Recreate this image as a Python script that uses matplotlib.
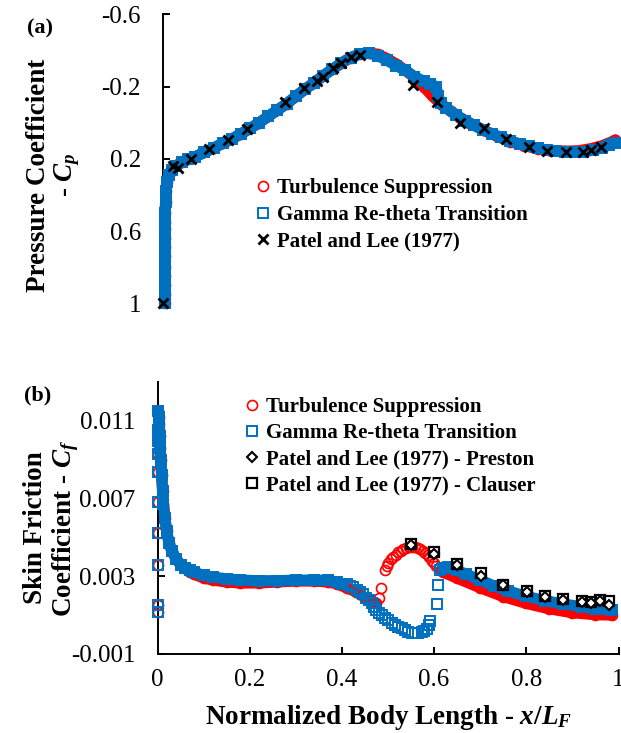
import numpy as np
import matplotlib.pyplot as plt
from matplotlib.lines import Line2D

plt.rcParams['font.family'] = 'Liberation Serif'
plt.rcParams['mathtext.fontset'] = 'custom'
plt.rcParams['mathtext.rm'] = 'Liberation Serif:bold'
plt.rcParams['mathtext.it'] = 'Liberation Serif:italic:bold'
plt.rcParams['mathtext.bf'] = 'Liberation Serif:bold'

# ---- (a) pressure coefficient ----
cp_gamma_x = [0.003, 0.003, 0.003, 0.003, 0.003, 0.003, 0.003, 0.003, 0.004, 0.004, 0.004, 0.005,
              0.006, 0.008, 0.012, 0.018, 0.027, 0.04, 0.055, 0.07, 0.09, 0.11, 0.13, 0.15, 0.17,
              0.19, 0.21, 0.23, 0.25, 0.27, 0.29, 0.31, 0.33, 0.35, 0.37, 0.39, 0.41, 0.43, 0.45,
              0.47, 0.49, 0.51, 0.53, 0.55, 0.57, 0.585, 0.597, 0.602, 0.607, 0.62, 0.64, 0.66,
              0.68, 0.70, 0.72, 0.74, 0.76, 0.78, 0.80, 0.82, 0.84, 0.86, 0.88, 0.90, 0.92, 0.94,
              0.96, 0.975, 0.99]
cp_gamma = [1.0, 0.95, 0.90, 0.85, 0.80, 0.74, 0.69, 0.64, 0.59, 0.55, 0.50, 0.44, 0.38, 0.33,
            0.29, 0.26, 0.24, 0.22, 0.203, 0.188, 0.165, 0.14, 0.115, 0.09, 0.062, 0.032, 0.0,
            -0.035, -0.07, -0.105, -0.145, -0.185, -0.22, -0.26, -0.295, -0.33, -0.36, -0.38,
            -0.385, -0.37, -0.345, -0.315, -0.29, -0.255, -0.23, -0.215, -0.2, -0.15, -0.11,
            -0.08, -0.045, -0.012, 0.015, 0.04, 0.062, 0.082, 0.1, 0.117, 0.13, 0.142, 0.151,
            0.157, 0.161, 0.163, 0.161, 0.153, 0.14, 0.125, 0.112]

cp_ts_x = [0.003, 0.003, 0.003, 0.003, 0.003, 0.003, 0.003, 0.003, 0.004, 0.004, 0.004, 0.005,
           0.006, 0.008, 0.012, 0.018, 0.027, 0.04, 0.055, 0.07, 0.09, 0.11, 0.13, 0.15, 0.17,
           0.19, 0.21, 0.23, 0.25, 0.27, 0.29, 0.31, 0.33, 0.35, 0.37, 0.39, 0.41, 0.43, 0.45,
           0.47, 0.49, 0.51, 0.53, 0.55, 0.57, 0.59, 0.61, 0.63, 0.65, 0.67, 0.70, 0.73, 0.76,
           0.79, 0.82, 0.85, 0.88, 0.91, 0.94, 0.96, 0.98, 0.99]
cp_ts = [1.0, 0.95, 0.90, 0.85, 0.80, 0.74, 0.69, 0.64, 0.59, 0.55, 0.50, 0.44, 0.38, 0.33,
         0.29, 0.26, 0.24, 0.22, 0.203, 0.188, 0.165, 0.14, 0.115, 0.09, 0.062, 0.032, 0.0,
         -0.035, -0.07, -0.105, -0.145, -0.185, -0.22, -0.26, -0.295, -0.33, -0.36, -0.38,
         -0.388, -0.378, -0.355, -0.325, -0.29, -0.25, -0.2, -0.145, -0.1, -0.062, -0.028, 0.0,
         0.04, 0.075, 0.105, 0.127, 0.145, 0.155, 0.158, 0.155, 0.142, 0.128, 0.108, 0.095]

cp_exp_x = [0.0, 0.021, 0.033, 0.060, 0.101, 0.142, 0.184, 0.266, 0.308, 0.336, 0.350, 0.371,
            0.390, 0.412, 0.430, 0.547, 0.600, 0.649, 0.702, 0.750, 0.801, 0.841, 0.881, 0.919,
            0.937, 0.959]
cp_exp = [1.0, 0.240, 0.253, 0.202, 0.148, 0.096, 0.037, -0.112, -0.190, -0.230, -0.254, -0.301,
          -0.329, -0.365, -0.374, -0.208, -0.116, 0.0, 0.028, 0.093, 0.134, 0.156, 0.161, 0.161,
          0.152, 0.137]

# ---- (b) skin friction coefficient ----
# points sitting right at the leading edge (x = 0), both models
cf_le_x = [0.0, 0.0, 0.0, 0.0, 0.0, 0.0, 0.0, 0.0, 0.0]
cf_le = [0.00117, 0.00151, 0.0036, 0.00522, 0.00681, 0.00838, 0.00929, 0.00997, 0.0105]

# Gamma Re-theta: upstream part, separation bubble, downstream part
cf_g1_x = [0.002, 0.003, 0.004, 0.005, 0.006, 0.007, 0.009, 0.011, 0.013, 0.016, 0.020, 0.025,
           0.031, 0.040, 0.050, 0.060, 0.070, 0.080, 0.100, 0.120, 0.150, 0.180, 0.220, 0.260,
           0.300, 0.340, 0.370, 0.390, 0.400]
cf_g1 = [0.0115, 0.0112, 0.0108, 0.0102, 0.0096, 0.0090, 0.0082, 0.0074, 0.0067, 0.0060, 0.0053,
         0.0047, 0.0043, 0.0039, 0.0036, 0.0034, 0.0033, 0.0032, 0.00305, 0.00295, 0.00287,
         0.0028, 0.00277, 0.00277, 0.0028, 0.0028, 0.00278, 0.0027, 0.00262]
cf_gs_x = [0.410, 0.418, 0.425, 0.432, 0.439, 0.446, 0.452, 0.458, 0.465, 0.470, 0.475, 0.480,
           0.486, 0.493, 0.501, 0.508, 0.515, 0.522, 0.530, 0.537, 0.544, 0.551, 0.559, 0.566,
           0.573, 0.579, 0.585, 0.589, 0.592, 0.606, 0.609, 0.613]
cf_gs = [0.0026, 0.0025, 0.00245, 0.0023, 0.0022, 0.0021, 0.0019, 0.0018, 0.0016, 0.0014,
         0.00126, 0.0011, 0.0010, 0.00087, 0.00074, 0.0006, 0.00049, 0.0004, 0.00032, 0.00022,
         0.00014, 0.0001, 0.0001, 0.0001, 0.00012, 0.0002, 0.0003, 0.0005, 0.0007, 0.00156,
         0.00254, 0.0033]
cf_g2_x = [0.62, 0.63, 0.64, 0.65, 0.67, 0.70, 0.73, 0.76, 0.80, 0.84, 0.88, 0.92, 0.95, 0.985]
cf_g2 = [0.0034, 0.00345, 0.0034, 0.0033, 0.0031, 0.0028, 0.0025, 0.00225, 0.00196, 0.00175,
         0.00157, 0.00143, 0.00133, 0.00126]

# Turbulence suppression: upstream part, hump, downstream part
cf_t1_x = [0.002, 0.003, 0.004, 0.005, 0.006, 0.007, 0.009, 0.011, 0.013, 0.016, 0.020, 0.025,
           0.031, 0.040, 0.050, 0.060, 0.070, 0.080, 0.100, 0.120, 0.150, 0.180, 0.220, 0.260,
           0.300, 0.340, 0.370, 0.390, 0.410, 0.430, 0.450, 0.465, 0.475]
cf_t1 = [0.0115, 0.0112, 0.0108, 0.0102, 0.0096, 0.0090, 0.0082, 0.0074, 0.0067, 0.0060, 0.0053,
         0.0047, 0.0043, 0.0039, 0.0036, 0.0034, 0.0032, 0.0031, 0.0029, 0.0028, 0.0027, 0.00265,
         0.00265, 0.0027, 0.00275, 0.00275, 0.0027, 0.0026, 0.0024, 0.0022, 0.0019, 0.0017, 0.0016]
cf_ts_x = [0.480, 0.485, 0.493, 0.497, 0.501, 0.506, 0.511, 0.517, 0.522, 0.528, 0.533, 0.540,
           0.546, 0.552, 0.558, 0.564, 0.569, 0.575, 0.580, 0.586, 0.590, 0.595, 0.600, 0.605,
           0.610]
cf_ts = [0.0019, 0.00237, 0.0033, 0.0035, 0.0037, 0.0039, 0.0040, 0.0041, 0.00425, 0.0043,
         0.0044, 0.00445, 0.00448, 0.0045, 0.00448, 0.00445, 0.0044, 0.0043, 0.0042, 0.0041,
         0.0040, 0.0038, 0.0037, 0.0035, 0.0034]
cf_t2_x = [0.615, 0.62, 0.65, 0.70, 0.75, 0.80, 0.85, 0.90, 0.95, 0.985]
cf_t2 = [0.0033, 0.0032, 0.0029, 0.0024, 0.00195, 0.0016, 0.00132, 0.00112, 0.00102, 0.001]

cf_exp_x = [0.550, 0.600, 0.650, 0.701, 0.750, 0.801, 0.841, 0.880, 0.920, 0.940, 0.960, 0.980]
cf_clauser = [0.00464, 0.00422, 0.00365, 0.00314, 0.00257, 0.00223, 0.00199, 0.00182, 0.00173,
              0.00168, 0.00180, 0.00173]
cf_preston = [0.00458, 0.00414, 0.00357, 0.00302, 0.00254, 0.00217, 0.00194, 0.00177, 0.00168,
              0.00163, 0.00172, 0.00151]

labels_a = ['Turbulence Suppression', 'Gamma Re-theta Transition', 'Patel and Lee (1977)']
labels_b = ['Turbulence Suppression', 'Gamma Re-theta Transition',
            'Patel and Lee (1977) - Preston', 'Patel and Lee (1977) - Clauser']

RED = '#FF0000'
BLUE = '#0070C0'
BAND_LW = 8.0
TICK_FS = 18
LAB_FS = 19.5
LEG_FS = 15

red_mk = dict(ls='none', marker='o', ms=7.2, mfc='none', mec=RED, mew=1.2, clip_on=False)
blue_mk = dict(ls='none', marker='s', ms=7.0, mfc='none', mec=BLUE, mew=1.4, clip_on=False)


def band(ax, x, y, color, z):
    # dense simulation markers merge into a solid band in the original
    ax.plot(x, y, color=color, lw=BAND_LW, solid_capstyle='round',
            solid_joinstyle='round', zorder=z, clip_on=False)


fig = plt.figure(figsize=(6.21, 7.33), dpi=100)
W, H = 621.0, 733.0

ax_a = fig.add_axes([163.3 / W, 1 - 303.3 / H, (620 - 163.3) / W, (303.3 - 14.3) / H])
ax_b = fig.add_axes([157.5 / W, 1 - 654 / H, (618.5 - 157.5) / W, (654 - 381.7) / H])

# panel (a)
band(ax_a, cp_ts_x, cp_ts, RED, 2)
ax_a.plot(cp_ts_x, cp_ts, zorder=3, **red_mk)
band(ax_a, cp_gamma_x, cp_gamma, BLUE, 4)
ax_a.plot(cp_gamma_x, cp_gamma, zorder=5, **blue_mk)
ax_a.plot(cp_exp_x, cp_exp, ls='none', marker='x', ms=7.2, mec='black', mew=2.0, zorder=6,
          clip_on=False)

ax_a.set_xlim(0, 1)
ax_a.set_ylim(1, -0.6)
ax_a.set_yticks([-0.6, -0.2, 0.2, 0.6, 1.0])
ax_a.set_yticklabels(['-0.6', '-0.2', '0.2', '0.6', '1'])
ax_a.set_xticks([])
for s in ['top', 'right', 'bottom']:
    ax_a.spines[s].set_visible(False)

# panel (b)
band(ax_b, cf_t1_x, cf_t1, RED, 2)
ax_b.plot(cf_t1_x, cf_t1, zorder=3, **red_mk)
band(ax_b, cf_t2_x, cf_t2, RED, 2)
ax_b.plot(cf_t2_x, cf_t2, zorder=3, **red_mk)
ax_b.plot(cf_ts_x, cf_ts, zorder=3, **red_mk)
ax_b.plot(cf_le_x, cf_le, zorder=3, **red_mk)

band(ax_b, cf_g1_x, cf_g1, BLUE, 4)
ax_b.plot(cf_g1_x, cf_g1, zorder=5, **blue_mk)
band(ax_b, cf_g2_x, cf_g2, BLUE, 4)
ax_b.plot(cf_g2_x, cf_g2, zorder=5, **blue_mk)
ax_b.plot(cf_gs_x, cf_gs, zorder=5, **blue_mk)
ax_b.plot(cf_le_x, cf_le, zorder=5, **blue_mk)

ax_b.plot(cf_exp_x, cf_preston, ls='none', marker='D', ms=4.6, mfc='white', mec='black',
          mew=1.5, zorder=7)
ax_b.plot(cf_exp_x, cf_clauser, ls='none', marker='s', ms=7.8, mfc='none', mec='black',
          mew=1.6, zorder=6)

ax_b.set_xlim(0, 1)
ax_b.set_ylim(-0.001, 0.013)
ax_b.set_yticks([-0.001, 0.003, 0.007, 0.011])
ax_b.set_yticklabels(['-0.001', '0.003', '0.007', '0.011'])
ax_b.set_xticks([0, 0.2, 0.4, 0.6, 0.8, 1.0])
ax_b.set_xticklabels(['0', '0.2', '0.4', '0.6', '0.8', '1'])
for s in ['top', 'right']:
    ax_b.spines[s].set_visible(False)

for ax in (ax_a, ax_b):
    for s in ax.spines.values():
        s.set_linewidth(1.4)
    ax.tick_params(axis='y', direction='in', length=5, width=1.4, pad=16, labelsize=TICK_FS)
    ax.tick_params(axis='x', direction='in', length=5, width=1.4, pad=11, labelsize=TICK_FS)

# legends
leg_a = [Line2D([], [], **red_mk), Line2D([], [], **blue_mk),
         Line2D([], [], ls='none', marker='x', ms=7.2, mec='black', mew=2.0)]
ax_a.legend(leg_a, labels_a, loc='upper left', bbox_to_anchor=(256 / W, 1 - 178 / H),
            bbox_transform=fig.transFigure, frameon=False, borderpad=0, borderaxespad=0,
            handlelength=0.7, handletextpad=0.3, labelspacing=0.33,
            prop=dict(family='Liberation Serif', weight='bold', size=LEG_FS))

leg_b = [Line2D([], [], **red_mk), Line2D([], [], **blue_mk),
         Line2D([], [], ls='none', marker='D', ms=4.6, mfc='white', mec='black', mew=1.5),
         Line2D([], [], ls='none', marker='s', ms=7.8, mfc='none', mec='black', mew=1.6)]
ax_b.legend(leg_b, labels_b, loc='upper left', bbox_to_anchor=(245 / W, 1 - 397 / H),
            bbox_transform=fig.transFigure, frameon=False, borderpad=0, borderaxespad=0,
            handlelength=0.7, handletextpad=0.3, labelspacing=0.3,
            prop=dict(family='Liberation Serif', weight='bold', size=LEG_FS))

# panel tags and axis titles
fig.text(40 / W, 1 - 28 / H, '(a)', ha='center', va='center', fontsize=16, fontweight='bold')
fig.text(38 / W, 1 - 395 / H, '(b)', ha='center', va='center', fontsize=16, fontweight='bold')
fig.text(54 / W, 1 - 175 / H, 'Pressure Coefficient\n- $C_p$', rotation=90, ha='center',
         va='center', multialignment='center', fontsize=LAB_FS, fontweight='bold',
         linespacing=1.1)
fig.text(52 / W, 1 - 528 / H, 'Skin Friction\nCoefficient - $C_f$', rotation=90, ha='center',
         va='center', multialignment='center', fontsize=LAB_FS, fontweight='bold',
         linespacing=1.1)
fig.text(388 / W, 1 - 718 / H, 'Normalized Body Length - $x/L_F$', ha='center', va='center',
         fontsize=LAB_FS, fontweight='bold')

fig.savefig('out.png', dpi=100)
